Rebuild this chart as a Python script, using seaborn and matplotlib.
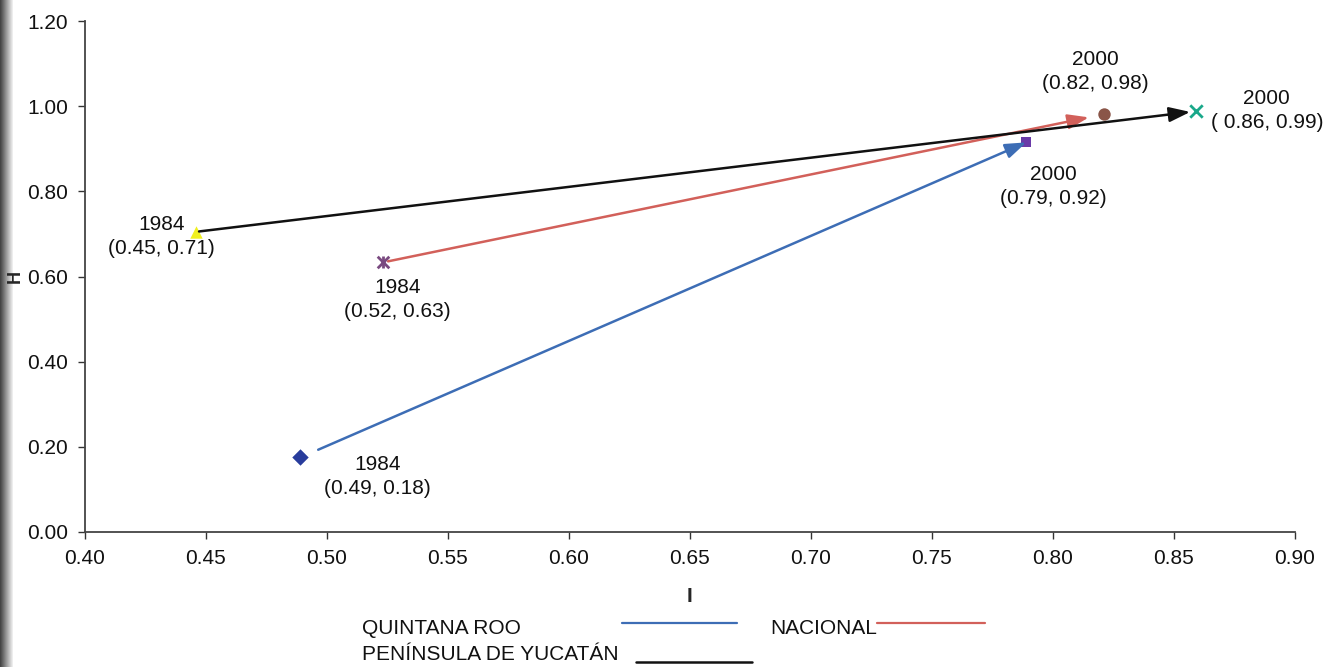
import numpy as np
import pandas as pd
import matplotlib.pyplot as plt
from matplotlib.lines import Line2D
import seaborn as sns

# Index values (I, H) per region, 1984 -> 2000
regions = ["QUINTANA ROO", "NACIONAL", "PENÍNSULA DE YUCATÁN"]
i_1984 = [0.489, 0.523, 0.446]
h_1984 = [0.175, 0.633, 0.705]
i_2000 = [0.789, 0.821, 0.859]
h_2000 = [0.915, 0.981, 0.988]
labels_1984 = ["1984\n(0.49, 0.18)", "1984\n(0.52, 0.63)", "1984\n(0.45, 0.71)"]
labels_2000 = ["2000\n(0.79, 0.92)", "2000\n(0.82, 0.98)", "2000\n( 0.86, 0.99)"]

x_ticks = [0.40, 0.45, 0.50, 0.55, 0.60, 0.65, 0.70, 0.75, 0.80, 0.85, 0.90]
y_ticks = [0.0, 0.2, 0.4, 0.6, 0.8, 1.0, 1.2]

sns.set_style("ticks")
plt.rcParams['font.family'] = ['Liberation Sans', 'DejaVu Sans']
plt.rcParams['font.size'] = 15

line_colors = {"QUINTANA ROO": "#3d6db5", "NACIONAL": "#d2605a",
               "PENÍNSULA DE YUCATÁN": "#111111"}
# excel-style markers: (marker, colour, size) for 1984 and 2000 points
markers_1984 = [("D", "#283c9c", 70), ("x", "#7a4a80", 70), ("^", "#f0f020", 80)]
markers_2000 = [("s", "#6a3aa8", 45), ("o", "#8a5548", 80), ("x", "#1aa88a", 80)]
label_off_1984 = [(77, -19), (15, -37), (-35, -5)]
label_off_2000 = [(27, -44), (-8, 43), (71, 1)]
shrink_a = [14, 4, 2]
shrink_b = [0, 11, 4]

fig = plt.figure(figsize=(13.36, 6.67), dpi=100)
ax = fig.add_axes([0.0636, 0.2024, 0.9693 - 0.0636, 0.9685 - 0.2024])
ax.set_zorder(2)

df = pd.DataFrame({"region": regions, "i84": i_1984, "h84": h_1984,
                   "i00": i_2000, "h00": h_2000})

for k, row in df.iterrows():
    m84, c84, s84 = markers_1984[k]
    m00, c00, s00 = markers_2000[k]
    sns.scatterplot(x=[row.i84], y=[row.h84], marker=m84, color=c84, s=s84,
                    linewidth=2 if m84 == "x" else 0, edgecolor=c84, ax=ax, zorder=3)
    sns.scatterplot(x=[row.i00], y=[row.h00], marker=m00, color=c00, s=s00,
                    linewidth=2 if m00 == "x" else 0, edgecolor=c00, ax=ax, zorder=3)
    ax.annotate("", xy=(row.i00, row.h00), xytext=(row.i84, row.h84),
                arrowprops=dict(arrowstyle="-|>,head_length=0.85,head_width=0.3",
                                color=line_colors[row.region], lw=1.8,
                                shrinkA=shrink_a[k], shrinkB=shrink_b[k],
                                mutation_scale=15), zorder=4)
    ax.annotate(labels_1984[k], xy=(row.i84, row.h84), xytext=label_off_1984[k],
                textcoords="offset pixels", ha="center", va="center",
                linespacing=1.35, fontsize=15, color="#111111")
    ax.annotate(labels_2000[k], xy=(row.i00, row.h00), xytext=label_off_2000[k],
                textcoords="offset pixels", ha="center", va="center",
                linespacing=1.35, fontsize=15, color="#111111")

# extra "*" bar on the nacional 1984 marker
sns.scatterplot(x=[i_1984[1]], y=[h_1984[1]], marker="|", color="#7a4a80", s=70,
                linewidth=2, ax=ax, zorder=3)

ax.set_xlim(0.40, 0.90)
ax.set_ylim(0.0, 1.2)
ax.set_xticks(x_ticks)
ax.set_yticks(y_ticks)
ax.set_xticklabels([f"{v:.2f}" for v in x_ticks])
ax.set_yticklabels([f"{v:.2f}" for v in y_ticks])
ax.tick_params(direction="out", length=5, width=1, colors="#333333",
               labelcolor="#111111", labelsize=15, pad=7)
for s in ["top", "right"]:
    ax.spines[s].set_visible(False)
for s in ["left", "bottom"]:
    ax.spines[s].set_color("#444444")
    ax.spines[s].set_linewidth(1.3)
ax.set_xlabel("I", fontsize=15, fontweight="bold", labelpad=14)
ax.set_ylabel("H", fontsize=13, fontweight="bold", labelpad=8)
ax.yaxis.set_label_coords(-0.051, 0.50)

# legend drawn underneath like the original
W, H = 1336, 667
def fx(px):
    return px / W
def fy(py):
    return 1 - py / H

fig.text(fx(362), fy(628), "QUINTANA ROO", fontsize=15, va="center", color="#111111")
fig.text(fx(362), fy(655), "PENÍNSULA DE YUCATÁN", fontsize=15, va="center", color="#111111")
fig.text(fx(770), fy(628), "NACIONAL", fontsize=15, va="center", color="#111111")
fig.lines.append(Line2D([fx(622), fx(737)], [fy(623), fy(623)], color=line_colors["QUINTANA ROO"],
                        lw=1.6, transform=fig.transFigure))
fig.lines.append(Line2D([fx(877), fx(985)], [fy(623), fy(623)], color=line_colors["NACIONAL"],
                        lw=1.6, transform=fig.transFigure))
fig.lines.append(Line2D([fx(636), fx(752)], [fy(662), fy(662)], color=line_colors["PENÍNSULA DE YUCATÁN"],
                        lw=1.8, transform=fig.transFigure))

# dark scan edge on the left
edge = fig.add_axes([0, 0, 13 / W, 1])
edge.set_zorder(0)
edge.imshow(np.linspace(0.25, 0.95, 50)[None, :], cmap="gray", aspect="auto",
            vmin=0, vmax=1)
edge.axis("off")

fig.savefig("out.png", dpi=100)
